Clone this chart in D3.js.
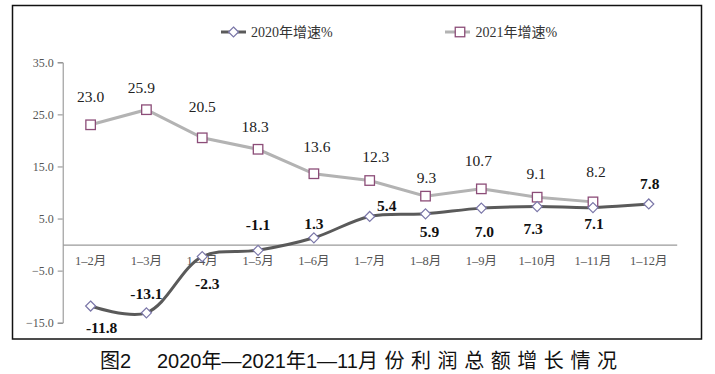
<!DOCTYPE html>
<html>
<head>
<meta charset="utf-8">
<script src="https://cdn.jsdelivr.net/npm/d3@7"></script>
<style>
  html, body { margin: 0; padding: 0; background: #fff; }
  svg { display: block; }
</style>
</head>
<body>
<svg id="chart" width="715" height="374"></svg>
<script>
// ---- Data ----
const categories = ["1–2月","1–3月","1–4月","1–5月","1–6月","1–7月","1–8月","1–9月","1–10月","1–11月","1–12月"];
const values2020 = [-11.8, -13.1, -2.3, -1.1, 1.3, 5.4, 5.9, 7.0, 7.3, 7.1, 7.8];
const values2021 = [23.0, 25.9, 20.5, 18.3, 13.6, 12.3, 9.3, 10.7, 9.1, 8.2];
const yTicks = [-15, -5, 5, 15, 25, 35];
const seriesNames = ["2020年增速%", "2021年增速%"];
const caption = ["图2", "2020年—2021年1—11", "月份利润总额增长情况"];

// ---- Label layout (pixel offsets of value labels from their markers) ----
const labelOffsets2020 = [[11,21],[0,-19],[5,27],[0,-26],[0,-14],[17,-11],[4,18],[3,23],[-4,22],[1,16],[1,-20]];
const labelOffsets2021 = [[0,-28],[-5,-22],[0,-31],[-3,-23],[3,-27],[6,-24],[1,-19],[-3,-28],[-1,-24],[3,-30]];

const svg = d3.select("#chart");
const serif = "'Liberation Serif','Times New Roman','Noto Sans CJK SC',serif";
const sans = "'Liberation Sans',Arial,'Noto Sans CJK SC',sans-serif";
const fmt = d => d3.format(".1f")(d).replace("−", "-");

// frame
svg.append("rect").attr("x", 12.5).attr("y", 5.5).attr("width", 689).attr("height", 333.5)
  .attr("fill", "none").attr("stroke", "#111").attr("stroke-width", 1.5);

const x = d3.scaleBand().domain(categories).range([62.7, 676.7]).paddingInner(0).paddingOuter(0);
const cx = d => x(d) + x.bandwidth() / 2;
const y = d3.scaleLinear().domain([-15, 35]).range([322.7, 62.3]);

// y axis
const yAxis = d3.axisLeft(y).tickValues(yTicks).tickSize(5).tickPadding(4)
  .tickFormat(d => d3.format(".1f")(d));
const gy = svg.append("g").attr("transform", "translate(62.7,0)").call(yAxis);
gy.select(".domain").attr("stroke", "#8a8a8a").attr("stroke-width", 1);
gy.selectAll(".tick line").attr("stroke", "#8a8a8a");
gy.selectAll(".tick text").attr("font-family", serif).attr("font-size", 12).attr("fill", "#555");

// zero line with category labels
const xAxis = d3.axisBottom(x).tickSize(0).tickPadding(12);
const gx = svg.append("g").attr("transform", `translate(0,${y(0)})`).call(xAxis);
gx.select(".domain").attr("stroke", "#9a9a9a").attr("stroke-width", 1.2);
gx.selectAll(".tick text").attr("font-family", serif).attr("font-size", 12.5).attr("fill", "#555");

// 2021 line (straight)
const line21 = d3.line().x((d, i) => cx(categories[i])).y(d => y(d));
svg.append("path").datum(values2021).attr("d", line21)
  .attr("fill", "none").attr("stroke", "#b3b3b3").attr("stroke-width", 3);

// 2020 line (smooth)
const line20 = d3.line().x((d, i) => cx(categories[i])).y(d => y(d)).curve(d3.curveCatmullRom.alpha(0.5));
svg.append("path").datum(values2020).attr("d", line20)
  .attr("fill", "none").attr("stroke", "#5a5a5a").attr("stroke-width", 3);

// markers
const sq = 9.5;
svg.append("g").selectAll("rect").data(values2021).join("rect")
  .attr("x", (d, i) => cx(categories[i]) - sq / 2).attr("y", d => y(d) - sq / 2)
  .attr("width", sq).attr("height", sq)
  .attr("fill", "#fff").attr("stroke", "#8c4d78").attr("stroke-width", 1.3);

const diamond = r => `M0,${-r}L${r},0L0,${r}L${-r},0Z`;
svg.append("g").selectAll("path").data(values2020).join("path")
  .attr("d", diamond(5))
  .attr("transform", (d, i) => `translate(${cx(categories[i])},${y(d)})`)
  .attr("fill", "#fff").attr("stroke", "#7a76a8").attr("stroke-width", 1.2);

// value labels
svg.append("g").selectAll("text").data(values2021).join("text")
  .attr("x", (d, i) => cx(categories[i]) + labelOffsets2021[i][0])
  .attr("y", (d, i) => y(d) + labelOffsets2021[i][1])
  .attr("text-anchor", "middle").attr("dominant-baseline", "central")
  .attr("font-family", serif).attr("font-size", 15.5).attr("fill", "#222")
  .text(fmt);

svg.append("g").selectAll("text").data(values2020).join("text")
  .attr("x", (d, i) => cx(categories[i]) + labelOffsets2020[i][0])
  .attr("y", (d, i) => y(d) + labelOffsets2020[i][1])
  .attr("text-anchor", "middle").attr("dominant-baseline", "central")
  .attr("font-family", serif).attr("font-size", 15.5).attr("font-weight", "bold").attr("fill", "#111")
  .text(fmt);

// legend
const lg = svg.append("g");
lg.append("line").attr("x1", 221).attr("x2", 246).attr("y1", 32).attr("y2", 32)
  .attr("stroke", "#5a5a5a").attr("stroke-width", 3);
lg.append("path").attr("d", diamond(5)).attr("transform", "translate(233.5,32)")
  .attr("fill", "#fff").attr("stroke", "#7a76a8").attr("stroke-width", 1.2);
lg.append("text").attr("x", 251).attr("y", 32).attr("dominant-baseline", "central")
  .attr("font-family", serif).attr("font-size", 14).attr("fill", "#333").text(seriesNames[0]);

lg.append("line").attr("x1", 445).attr("x2", 470).attr("y1", 32).attr("y2", 32)
  .attr("stroke", "#b3b3b3").attr("stroke-width", 3);
lg.append("rect").attr("x", 460 - sq / 2).attr("y", 32 - sq / 2).attr("width", sq).attr("height", sq)
  .attr("fill", "#fff").attr("stroke", "#8c4d78").attr("stroke-width", 1.3);
lg.append("text").attr("x", 475.5).attr("y", 32).attr("dominant-baseline", "central")
  .attr("font-family", serif).attr("font-size", 14).attr("fill", "#333").text(seriesNames[1]);

// caption
const capStyle = t => t.attr("y", 361).attr("dominant-baseline", "central")
  .attr("font-family", sans).attr("font-size", 20).attr("fill", "#111");
svg.append("text").call(capStyle).attr("x", 100).text(caption[0]);
const cap1 = svg.append("text").call(capStyle).attr("x", 157).text(caption[1]);
const endFirst = 157 + cap1.node().getComputedTextLength();
svg.append("text").call(capStyle).attr("x", endFirst)
  .attr("textLength", 617 - endFirst).attr("lengthAdjust", "spacing").text(caption[2]);
</script>
</body>
</html>
